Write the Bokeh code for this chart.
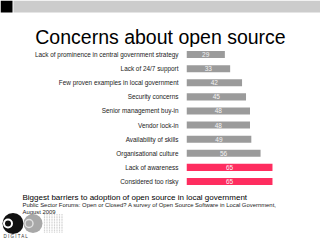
from bokeh.plotting import figure
from bokeh.models import ColumnDataSource, Range1d, FactorRange
from bokeh.layouts import column
from bokeh.embed import file_html
from bokeh.resources import INLINE
from bokeh.core.properties import value
import numpy as np

title = "Concerns about open source"
categories = [
    "Lack of prominence in central government strategy",
    "Lack of 24/7 support",
    "Few proven examples in local government",
    "Security concerns",
    "Senior management buy-in",
    "Vendor lock-in",
    "Availability of skills",
    "Organisational culture",
    "Lack of awareness",
    "Considered too risky",
]
values = [29, 33, 42, 45, 48, 48, 49, 56, 65, 65]
highlighted = ["Lack of awareness", "Considered too risky"]
subtitle = "Biggest barriers to adoption of open source in local government"
source_lines = [
    "Public Sector Forums: Open or Closed? A survey of Open Source Software in Local Government,",
    "August 2009",
]

FONT = value("Liberation Sans")
GRAY = "#9b9b9b"
PINK = "#fe2d5f"


def bare(p):
    p.min_border_left = 0
    p.min_border_right = 0
    p.min_border_top = 0
    p.min_border_bottom = 0
    p.outline_line_color = None
    p.background_fill_color = "white"
    p.border_fill_color = "white"
    p.xgrid.visible = False
    p.ygrid.visible = False
    p.frame_align = False
    return p


# ---------- header ----------
header = bare(figure(width=320, height=47, x_range=Range1d(0, 320), y_range=Range1d(47, 0),
                     x_axis_location=None, y_axis_location=None,
                     toolbar_location=None, output_backend="svg"))
header.quad(left=[0], right=[12], top=[0], bottom=[12], fill_color="black", line_color=None)
header.quad(left=[13], right=[320], top=[0], bottom=[12], fill_color="#cccccc", line_color=None)
header.text(x=[160], y=[36], text=[title], text_align="center", text_baseline="alphabetic",
            text_font=FONT, text_font_size="19.5px", text_color="black")

# ---------- bars ----------
factors = list(reversed(categories))
src = ColumnDataSource(dict(
    cat=categories,
    val=values,
    mid=[v / 2 for v in values],
    label=[str(v) for v in values],
    color=[PINK if c in highlighted else GRAY for c in categories],
))
main = figure(width=320, height=141, x_range=Range1d(0, 101.3),
              y_range=FactorRange(factors=factors, range_padding=0),
              x_axis_location=None, toolbar_location=None, output_backend="svg")
bare(main)
main.min_border_left = 186
main.hbar(y="cat", left=0, right="val", height=0.5, fill_color="color", line_color=None, source=src)
main.text(x="mid", y="cat", text="label", text_align="center", text_baseline="middle",
          text_font=FONT, text_font_size="6.5px", text_color="#f4f4f4", source=src)
ax = main.yaxis[0]
ax.axis_line_color = None
ax.major_tick_line_color = None
ax.minor_tick_line_color = None
ax.major_label_standoff = 2
ax.major_label_text_font = "Liberation Sans"
ax.major_label_text_font_size = "6.4px"
ax.major_label_text_color = "#222222"

# ---------- footer ----------
footer = bare(figure(width=320, height=52, x_range=Range1d(0, 320), y_range=Range1d(52, 0),
                     x_axis_location=None, y_axis_location=None,
                     toolbar_location=None, output_backend="svg"))
footer.text(x=[22], y=[8.5], text=[subtitle], text_baseline="alphabetic",
            text_font=FONT, text_font_size="8px", text_color="black")
footer.text(x=[22, 22], y=[16.3, 23.3], text=source_lines, text_baseline="alphabetic",
            text_font=FONT, text_font_size="5.9px", text_color="#222222")
# logo
footer.circle(x=[12.5], y=[35], radius=10.5, fill_color="#111111", line_color=None)
footer.circle(x=[7.5], y=[35], radius=5, fill_color="white", line_color=None)
footer.circle(x=[7.5], y=[35], radius=3, fill_color="#111111", line_color=None)
footer.circle(x=[32.5], y=[35], radius=9.5, fill_color="#a8a8a8", line_color=None)
footer.circle(x=[28.5], y=[35], radius=4, fill_color=None, line_color="#e0e0e0", line_width=1.5)
gx, gy = np.meshgrid(np.arange(44, 63, 2.5), np.arange(26, 45, 1.6))
footer.scatter(x=gx.ravel(), y=gy.ravel(), marker="square", size=1.2,
               fill_color="#d4d4d4", line_color=None)
footer.text(x=[3], y=[48], text=["D  I  G  I  T  A  L"], text_baseline="alphabetic",
            text_font=FONT, text_font_size="4.5px", text_color="#333333")

layout = column(header, main, footer, spacing=0)
open("out.html", "w").write(file_html(layout, INLINE))
